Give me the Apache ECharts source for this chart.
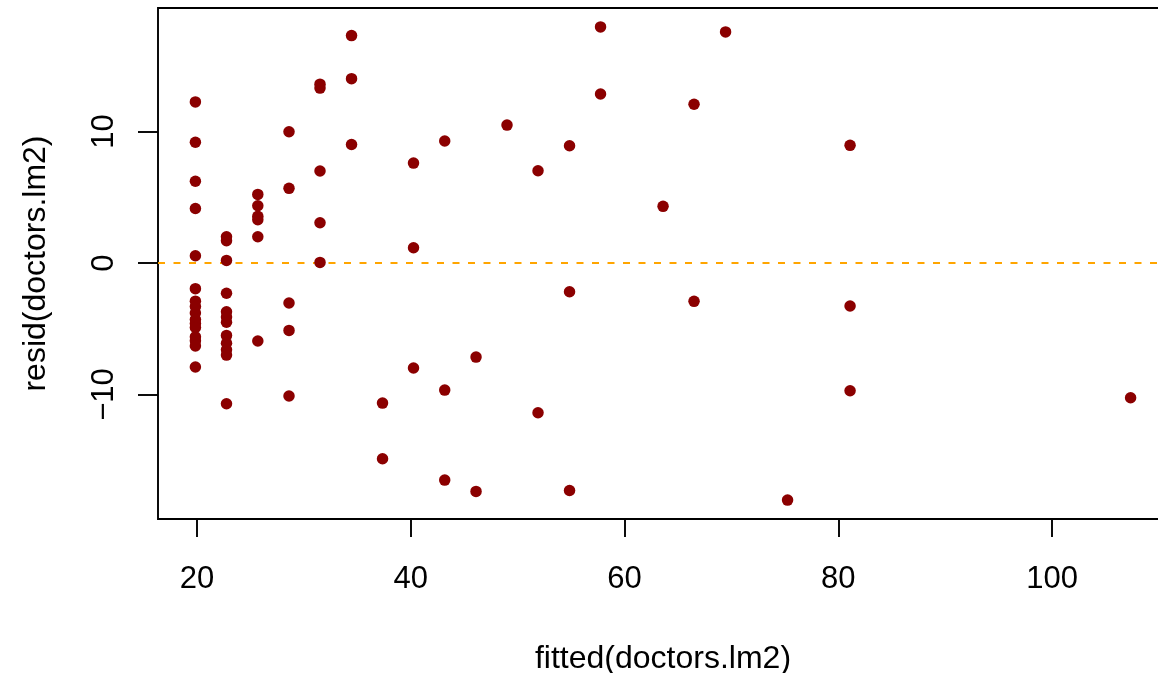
<!DOCTYPE html>
<html>
<head>
<meta charset="utf-8">
<script src="https://cdn.jsdelivr.net/npm/echarts@6/dist/echarts.min.js"></script>
<style>
html,body{margin:0;padding:0;background:#fff;}
#chart{width:1158px;height:673px;}
</style>
</head>
<body>
<div id="chart"></div>
<script>
// fitted values (x) and residuals (y)
const fitted = [
  19.84,19.84,19.84,19.84,19.84,19.84,19.84,19.84,19.84,19.84,19.84,19.84,19.84,19.84,19.84,19.84,
  22.75,22.75,22.75,22.75,22.75,22.75,22.75,22.75,22.75,22.75,22.75,22.75,
  25.68,25.68,25.68,25.68,25.68,25.68,
  28.6,28.6,28.6,28.6,28.6,
  31.5,31.5,31.5,31.5,31.5,
  34.45,34.45,34.45,
  37.35,37.35,
  40.25,40.25,40.25,
  43.17,43.17,43.17,
  46.1,46.1,
  49.0,
  51.9,51.9,
  54.85,54.85,54.85,
  57.75,57.75,
  63.6,
  66.5,66.5,
  69.45,
  75.25,
  81.1,81.1,81.1,
  107.35
];
const resid = [
  12.25,9.18,6.22,4.15,0.55,-1.95,-2.9,-3.3,-3.8,-4.3,-4.6,-4.9,-5.6,-5.9,-6.3,-7.9,
  2.0,1.7,0.2,-2.3,-3.7,-4.1,-4.5,-5.5,-6.1,-6.6,-7.0,-10.7,
  5.22,4.36,3.55,3.3,2.0,-5.93,
  9.98,5.68,-3.04,-5.12,-10.11,
  13.6,13.3,7.0,3.06,0.05,
  17.29,14.02,9.01,
  -10.65,-14.88,
  7.6,1.16,-7.98,
  9.28,-9.66,-16.5,
  -7.15,-17.36,
  10.49,
  7.02,-11.38,
  8.92,-2.18,-17.29,
  17.95,12.85,
  4.31,
  12.07,-2.91,
  17.57,
  -18.02,
  8.95,-3.27,-9.71,
  -10.24
];
const xTicks = [20, 40, 60, 80, 100];
const yTicks = [-10, 0, 10];
const xTitle = 'fitted(doctors.lm2)';
const yTitle = 'resid(doctors.lm2)';

const points = fitted.map((x, i) => [x, resid[i]]);
const FONT = 'Liberation Sans, Arial, Helvetica, sans-serif';

const chart = echarts.init(document.getElementById('chart'), null, {renderer: 'canvas'});
chart.setOption({
  animation: false,
  backgroundColor: '#ffffff',
  grid: {
    left: 158, top: 8, width: 1010, height: 511,
    outerBoundsMode: 'none', containLabel: false,
    show: true, borderColor: '#000', borderWidth: 1.9, backgroundColor: 'transparent'
  },
  xAxis: {
    type: 'value', min: 16.34, max: 110.85,
    name: xTitle, nameLocation: 'middle', nameGap: 124,
    nameTextStyle: {fontFamily: FONT, fontSize: 32, color: '#000'},
    axisLine: {show: false, onZero: false},
    splitLine: {show: false},
    axisTick: {show: true, customValues: xTicks, length: 18, inside: false,
               lineStyle: {color: '#000', width: 1.9}},
    axisLabel: {show: true, customValues: xTicks, margin: 45,
                fontFamily: FONT, fontSize: 31, color: '#000'}
  },
  yAxis: {
    type: 'value', min: -19.46, max: 19.39,
    name: yTitle, nameLocation: 'middle', nameGap: 106,
    nameTextStyle: {fontFamily: FONT, fontSize: 32, color: '#000'},
    axisLine: {show: false, onZero: false},
    splitLine: {show: false},
    axisTick: {show: true, customValues: yTicks, length: 20, inside: false,
               lineStyle: {color: '#000', width: 1.9}},
    axisLabel: {show: true, customValues: yTicks, margin: 38, rotate: 90,
                fontFamily: FONT, fontSize: 31, color: '#000',
                formatter: v => (v < 0 ? '\u2212' + Math.abs(v) : String(v))}
  },
  series: [{
    type: 'scatter',
    data: points,
    symbol: 'circle',
    symbolSize: 11.5,
    itemStyle: {color: '#8B0000', opacity: 1},
    z: 3,
    markLine: {
      silent: true,
      symbol: ['none', 'none'],
      label: {show: false},
      lineStyle: {color: '#FFA500', type: [7, 8.5], width: 1.9, opacity: 1},
      data: [{yAxis: 0}],
      z: 2
    }
  }]
});
</script>
</body>
</html>
